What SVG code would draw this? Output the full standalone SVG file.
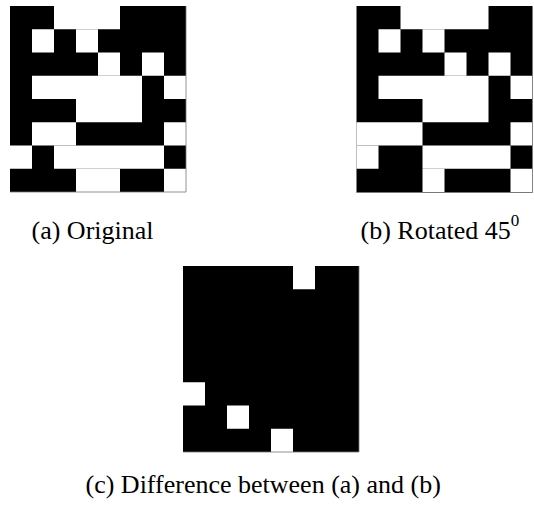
<svg xmlns="http://www.w3.org/2000/svg" width="534" height="510" viewBox="0 0 534 510">
<style>
.bg{fill:#000}
.w{fill:#fff}
.edge{fill:none;stroke:#777;stroke-width:0.8}
.cap{font-family:"Liberation Serif","Times New Roman",serif;font-size:26px;fill:#000}
.sup{font-family:"Liberation Serif","Times New Roman",serif;font-size:17px;fill:#000}
</style>
<rect width="534" height="510" fill="#fff"/>
<g id="grid-a" transform="translate(10,6)">
<rect class="bg" x="0" y="0" width="176" height="186"/>
<rect class="w" x="44" y="0" width="66" height="23.25"/>
<rect class="w" x="22" y="23.25" width="22" height="23.25"/>
<rect class="w" x="66" y="23.25" width="22" height="23.25"/>
<rect class="w" x="88" y="46.5" width="22" height="23.25"/>
<rect class="w" x="132" y="46.5" width="22" height="23.25"/>
<rect class="w" x="22" y="69.75" width="110" height="23.25"/>
<rect class="w" x="154" y="69.75" width="22" height="23.25"/>
<rect class="w" x="66" y="93" width="66" height="23.25"/>
<rect class="w" x="22" y="116.25" width="44" height="23.25"/>
<rect class="w" x="154" y="116.25" width="22" height="23.25"/>
<rect class="w" x="0" y="139.5" width="22" height="23.25"/>
<rect class="w" x="44" y="139.5" width="110" height="23.25"/>
<rect class="w" x="66" y="162.75" width="44" height="23.25"/>
<rect class="w" x="154" y="162.75" width="22" height="23.25"/>
<polyline class="edge" points="0,186 176,186 176,0"/>
</g>
<g id="grid-b" transform="translate(356.5,6)">
<rect class="bg" x="0" y="0" width="176" height="186.5"/>
<rect class="w" x="44" y="0" width="88" height="23.25"/>
<rect class="w" x="22" y="23.25" width="22" height="23.25"/>
<rect class="w" x="66" y="23.25" width="22" height="23.25"/>
<rect class="w" x="88" y="46.5" width="22" height="23.25"/>
<rect class="w" x="132" y="46.5" width="22" height="23.25"/>
<rect class="w" x="22" y="69.75" width="110" height="23.25"/>
<rect class="w" x="154" y="69.75" width="22" height="23.25"/>
<rect class="w" x="66" y="93" width="66" height="23.25"/>
<rect class="w" x="0" y="116.25" width="66" height="23.25"/>
<rect class="w" x="154" y="116.25" width="22" height="23.25"/>
<rect class="w" x="0" y="139.5" width="22" height="23.25"/>
<rect class="w" x="66" y="139.5" width="88" height="23.25"/>
<rect class="w" x="66" y="162.75" width="22" height="23.25"/>
<rect class="w" x="154" y="162.75" width="22" height="23.25"/>
<polyline class="edge" points="0,186.5 176,186.5 176,0"/>
</g>
<g id="grid-c" transform="translate(183,266)">
<rect class="bg" x="0" y="0" width="176" height="186"/>
<rect class="w" x="110" y="0" width="22" height="23.25"/>
<rect class="w" x="0" y="116.25" width="22" height="23.25"/>
<rect class="w" x="44" y="139.5" width="22" height="23.25"/>
<rect class="w" x="88" y="162.75" width="22" height="23.25"/>
<polyline class="edge" points="0,186 176,186 176,0"/>
</g>
<g id="captions">
<text class="cap" x="31.5" y="239">(a) Original</text>
<text class="cap" x="360.5" y="238.5">(b) Rotated 45<tspan class="sup" dy="-12.5">0</tspan></text>
<text class="cap" x="85.5" y="493">(c) Difference between (a) and (b)</text>
</g>
<g id="connectors"/>
</svg>
